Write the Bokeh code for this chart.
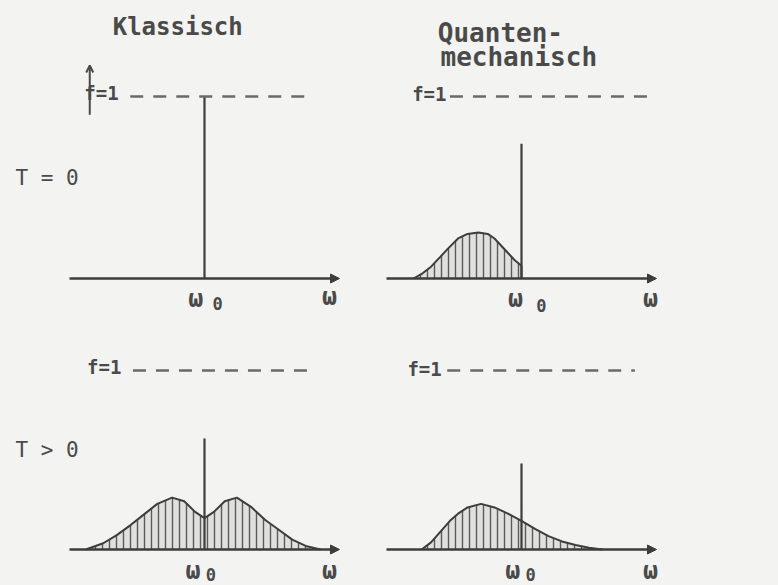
import numpy as np
from bokeh.plotting import figure
from bokeh.layouts import gridplot
from bokeh.models import Range1d, Arrow, NormalHead, OpenHead
from bokeh.core.properties import value
from bokeh.embed import file_html
from bokeh.resources import INLINE

# ---------------- data ----------------
column_titles = ["Klassisch", "Quanten-", "mechanisch"]
row_labels = ["T = 0", "T > 0"]
ref_label = "f=1"
omega_label = "ω"
omega0_sub = "0"

OMEGA_0 = 1.0            # resonance frequency (omega_0)
OMEGA_AXIS = [0.0, 2.0]  # drawn omega axis extent
F_REF = 1.0              # reference level f = 1

# spike heights at omega_0: classical T=0, quantum T=0, classical T>0, quantum T>0
spike_heights = [1.0, 0.74, 0.62, 0.48]

# quantum mechanical, T = 0 (side band below omega_0, cut off at omega_0)
qm_t0_omega = [0.20, 0.27, 0.33, 0.40, 0.45, 0.53, 0.60, 0.68, 0.75, 0.80, 0.85, 0.90, 0.95, 1.00]
qm_t0_f     = [0.00, 0.03, 0.065, 0.12, 0.16, 0.22, 0.245, 0.253, 0.245, 0.22, 0.18, 0.14, 0.10, 0.07]

# classical, T > 0 (two symmetric side bands)
cl_t_omega = [0.12, 0.25, 0.35, 0.45, 0.55, 0.65, 0.76, 0.85, 0.93, 1.00, 1.07, 1.15, 1.24, 1.35, 1.45, 1.55, 1.65, 1.75, 1.86]
cl_t_f     = [0.00, 0.035, 0.08, 0.135, 0.195, 0.255, 0.29, 0.27, 0.21, 0.175, 0.21, 0.27, 0.29, 0.235, 0.165, 0.11, 0.055, 0.02, 0.00]

# quantum mechanical, T > 0 (asymmetric band)
qm_t_omega = [0.26, 0.33, 0.40, 0.47, 0.53, 0.60, 0.70, 0.80, 0.90, 1.00, 1.10, 1.20, 1.30, 1.40, 1.50, 1.60]
qm_t_f     = [0.00, 0.04, 0.10, 0.16, 0.20, 0.235, 0.255, 0.235, 0.20, 0.16, 0.115, 0.075, 0.045, 0.025, 0.01, 0.00]

# dashed reference-line extents (omega) per panel
dash_spans = [[0.45, 1.76], [0.47, 1.93], [0.47, 1.81], [0.45, 1.84]]

# ---------------- style ----------------
BG = "#f3f3f1"
INK = "#3d3d3d"
TEXT_C = "#4a4a4a"
DASH_C = "#6a6a6a"
HATCH_C = "#5a5a5a"
FONT = "DejaVu Sans Mono"


def make_fig(w, h, xr, yr):
    p = figure(width=w, height=h, x_range=Range1d(*xr), y_range=Range1d(*yr),
               output_backend="svg", toolbar_location=None,
               min_border=0, background_fill_color=BG, border_fill_color=BG,
               outline_line_color=None)
    p.xaxis.visible = False
    p.yaxis.visible = False
    p.grid.visible = False
    return p


def label(p, x, y, s, size, color=TEXT_C, style="bold"):
    p.text(x=[x], y=[y], text=[s], text_font=value(FONT),
           text_font_size=f"{size}px", text_baseline="middle",
           text_align="left", text_color=color, text_font_style=style)


def common(p, idx, dash_y=F_REF):
    # omega axis with arrow
    p.add_layout(Arrow(end=NormalHead(size=9, fill_color=INK, line_color=INK),
                       x_start=OMEGA_AXIS[0], y_start=0, x_end=OMEGA_AXIS[1], y_end=0,
                       line_color=INK, line_width=2.5))
    # spike at omega_0
    p.segment(x0=[OMEGA_0], y0=[0], x1=[OMEGA_0], y1=[spike_heights[idx]],
              line_color=INK, line_width=2.2)
    # dashed f = 1 line
    p.line(x=dash_spans[idx], y=[dash_y, dash_y], line_color=DASH_C,
           line_width=2.5, line_dash="13 10")


def band(p, om, f):
    p.varea(x=om, y1=[0] * len(om), y2=f, fill_color="#bdbdbd", fill_alpha=0.35,
            hatch_pattern="vertical_line", hatch_scale=7, hatch_weight=1.4,
            hatch_color=HATCH_C)
    p.line(x=om, y=f, line_color=INK, line_width=2)


def omega_labels(p, x_w, y_w, x_0, y_0, x_end, y_end):
    label(p, x_w, y_w, omega_label, 25)
    label(p, x_0, y_0, omega0_sub, 17)
    label(p, x_end, y_end, omega_label, 25)


# figure geometry: 135 px per omega unit
LW, RW = 360, 418
TH, BH = 320, 265
left_xr = (-69 / 135, -69 / 135 + LW / 135)
right_xr = (-26 / 135, -26 / 135 + RW / 135)
top_yr = (278 / 182 - TH / 182, 278 / 182)
bot_yr = (229 / 179 - BH / 179, 229 / 179)

# --- top left: classical, T = 0 ---
p1 = make_fig(LW, TH, left_xr, top_yr)
common(p1, 0)
label(p1, 0.32, 1.38, column_titles[0], 24)
label(p1, -0.40, 0.55, row_labels[0], 21, style="normal")
label(p1, 0.11, 1.02, ref_label, 19)
p1.add_layout(Arrow(end=OpenHead(size=7, line_color=TEXT_C, line_width=2),
                    x_start=0.15, y_start=0.90, x_end=0.15, y_end=1.17,
                    line_color=TEXT_C, line_width=2))
omega_labels(p1, 0.88, -0.11, 1.06, -0.14, 1.87, -0.10)

# --- top right: quantum, T = 0 ---
p2 = make_fig(RW, TH, right_xr, top_yr)
band(p2, qm_t0_omega, qm_t0_f)
p2.segment(x0=[qm_t0_omega[-1]], y0=[0], x1=[qm_t0_omega[-1]], y1=[qm_t0_f[-1]],
           line_color=INK, line_width=2)
common(p2, 1)
label(p2, 0.38, 1.35, column_titles[1], 26)
label(p2, 0.40, 1.215, column_titles[2], 26)
label(p2, 0.19, 1.015, ref_label, 19)
omega_labels(p2, 0.90, -0.11, 1.11, -0.15, 1.90, -0.11)

# --- bottom left: classical, T > 0 ---
p3 = make_fig(LW, BH, left_xr, bot_yr)
band(p3, cl_t_omega, cl_t_f)
common(p3, 2)
label(p3, -0.40, 0.555, row_labels[1], 21, style="normal")
label(p3, 0.13, 1.02, ref_label, 19)
omega_labels(p3, 0.86, -0.115, 1.01, -0.14, 1.87, -0.115)

# --- bottom right: quantum, T > 0 ---
p4 = make_fig(RW, BH, right_xr, bot_yr)
band(p4, qm_t_omega, qm_t_f)
common(p4, 3)
label(p4, 0.155, 1.01, ref_label, 19)
omega_labels(p4, 0.88, -0.115, 1.03, -0.14, 1.90, -0.115)

grid = gridplot([[p1, p2], [p3, p4]], toolbar_location=None)

html = file_html(grid, INLINE)
html = html.replace("<head>", "<head><style>html,body{background:%s;}</style>" % BG, 1)
open("out.html", "w").write(html)
